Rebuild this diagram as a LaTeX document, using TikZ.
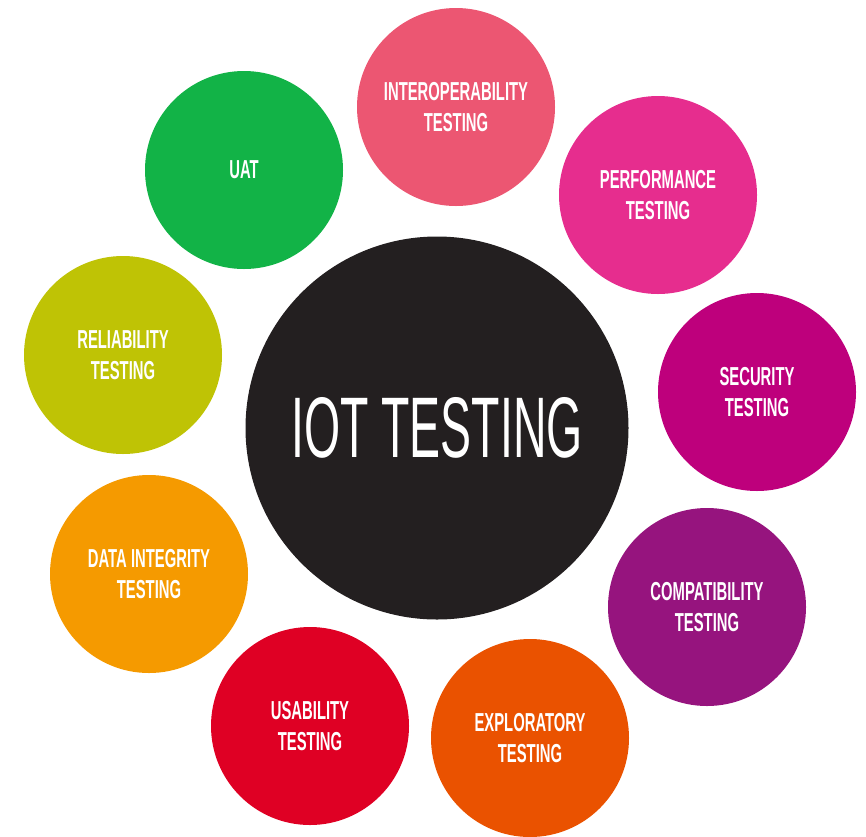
\documentclass[tikz,border=0pt]{standalone}
\usepackage{fontspec}
\newfontfamily\labfont{Liberation Sans}[FakeStretch=0.57]
\newfontfamily\bigfont{Liberation Sans}[FakeStretch=0.54]
\definecolor{cInter}{HTML}{EC5672}
\definecolor{cPerf}{HTML}{E62D8E}
\definecolor{cSec}{HTML}{BE007C}
\definecolor{cComp}{HTML}{96147E}
\definecolor{cExpl}{HTML}{EA5200}
\definecolor{cUsab}{HTML}{DF0024}
\definecolor{cData}{HTML}{F59A00}
\definecolor{cRel}{HTML}{BFC305}
\definecolor{cUAT}{HTML}{12B347}
\definecolor{cCore}{HTML}{231F20}
\tikzset{
  bubble/.style={circle, minimum size=198pt, inner sep=0pt, text=white, align=center,
    font=\labfont\bfseries\fontsize{26}{31}\selectfont},
  core/.style={circle, minimum size=383pt, inner sep=0pt, fill=cCore, text=white,
    font=\bigfont\fontsize{86}{90}\selectfont}
}
\begin{document}
\begin{tikzpicture}[x=1pt,y=-1pt]
\useasboundingbox (0,0) rectangle (866,836);
\node[core] (core) at (437,428) {IOT TESTING};
\node[bubble, fill=cInter] (inter) at (456,107) {INTEROPERABILITY\\TESTING};
\node[bubble, fill=cPerf] (perf) at (658,195) {PERFORMANCE\\TESTING};
\node[bubble, fill=cSec] (sec) at (757,392) {SECURITY\\TESTING};
\node[bubble, fill=cComp] (comp) at (707,607) {COMPATIBILITY\\TESTING};
\node[bubble, fill=cExpl] (expl) at (530,738) {EXPLORATORY\\TESTING};
\node[bubble, fill=cUsab] (usab) at (310,726) {USABILITY\\TESTING};
\node[bubble, fill=cData] (data) at (149,574) {DATA INTEGRITY\\TESTING};
\node[bubble, fill=cRel] (rel) at (123,355) {RELIABILITY\\TESTING};
\node[bubble, fill=cUAT] (uat) at (244,170) {UAT};
\end{tikzpicture}
\end{document}
